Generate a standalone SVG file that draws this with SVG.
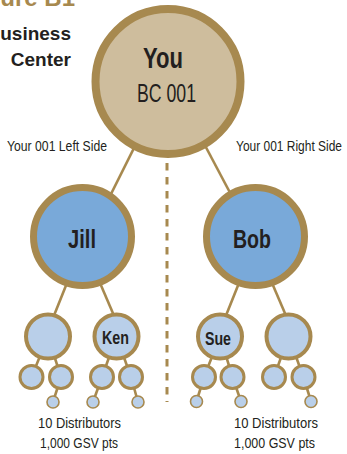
<svg xmlns="http://www.w3.org/2000/svg" width="347" height="454" viewBox="0 0 347 454">
<style>
  .ln { stroke: #a7894f; stroke-width: 2.6; fill: none; }
  .dash { stroke: #a7894f; stroke-width: 3; stroke-dasharray: 7.5 6.5; fill: none; }
  .you { fill: #cebd9d; stroke: #a7894f; stroke-width: 8; }
  .l2 { fill: #79a9d9; stroke: #a7894f; stroke-width: 7; }
  .l3 { fill: #b9cfe9; stroke: #a7894f; stroke-width: 4; }
  .l4 { fill: #b9cfe9; stroke: #a7894f; stroke-width: 3; }
  .l5 { fill: #b9cfe9; stroke: #a7894f; stroke-width: 1.6; }
  text { font-family: "Liberation Sans", Arial, sans-serif; fill: #231f20; }
  .b { font-weight: bold; }
  .side { font-size: 15.5px; }
  .foot { font-size: 15.5px; }
</style>
<rect width="347" height="454" fill="#ffffff"/>
<g id="title">
  <text x="75" y="6" class="b" font-size="24" text-anchor="end" style="fill:#a7894f">Figure B1</text>
  <text x="71" y="40" class="b" font-size="19" text-anchor="end">Business</text>
  <text x="71" y="66" class="b" font-size="19" text-anchor="end">Center</text>
</g>
<g id="connectors">
  <line class="dash" x1="167" y1="163" x2="167" y2="402"/>
  <line class="ln" x1="140" y1="136" x2="104" y2="208"/>
  <line class="ln" x1="200" y1="136" x2="236" y2="204"/>
  <line class="ln" x1="67" y1="283" x2="53" y2="318"/>
  <line class="ln" x1="100" y1="283" x2="115" y2="318"/>
  <line class="ln" x1="239" y1="283" x2="225" y2="318"/>
  <line class="ln" x1="272" y1="283" x2="287" y2="318"/>
  <line class="ln" x1="48" y1="336.5" x2="31.5" y2="377"/>
  <line class="ln" x1="48" y1="336.5" x2="61" y2="377"/>
  <line class="ln" x1="116.5" y1="336.5" x2="102" y2="377"/>
  <line class="ln" x1="116.5" y1="336.5" x2="131" y2="377"/>
  <line class="ln" x1="220" y1="336.5" x2="204" y2="377"/>
  <line class="ln" x1="220" y1="336.5" x2="232.5" y2="377"/>
  <line class="ln" x1="288.5" y1="336.5" x2="274" y2="377"/>
  <line class="ln" x1="288.5" y1="336.5" x2="303.5" y2="377"/>
  <line class="ln" x1="61" y1="377" x2="53" y2="402"/>
  <line class="ln" x1="102" y1="377" x2="93" y2="402"/>
  <line class="ln" x1="131" y1="377" x2="138" y2="402"/>
  <line class="ln" x1="204" y1="377" x2="196.5" y2="401.5"/>
  <line class="ln" x1="232.5" y1="377" x2="241" y2="401.5"/>
  <line class="ln" x1="303.5" y1="377" x2="311" y2="401.5"/>
</g>
<g id="labels">
  <text class="side" x="7" y="151" textLength="100" lengthAdjust="spacingAndGlyphs">Your 001 Left Side</text>
  <text class="side" x="236" y="151" textLength="106" lengthAdjust="spacingAndGlyphs">Your 001 Right Side</text>
  <text class="foot" x="38" y="428" textLength="83" lengthAdjust="spacingAndGlyphs">10 Distributors</text>
  <text class="foot" x="40" y="448" textLength="78" lengthAdjust="spacingAndGlyphs">1,000 GSV pts</text>
  <text class="foot" x="234" y="428" textLength="84" lengthAdjust="spacingAndGlyphs">10 Distributors</text>
  <text class="foot" x="234" y="448" textLength="81" lengthAdjust="spacingAndGlyphs">1,000 GSV pts</text>
</g>
<g id="you">
  <circle class="you" cx="168" cy="81.5" r="72.5"/>
  <text x="163" y="68" class="b" font-size="30" text-anchor="middle" textLength="40" lengthAdjust="spacingAndGlyphs">You</text>
  <text x="166.5" y="102" font-size="26" text-anchor="middle" textLength="59" lengthAdjust="spacingAndGlyphs">BC 001</text>
</g>
<g id="jill">
  <circle class="l2" cx="82.5" cy="236.5" r="49"/>
  <text x="82" y="248" class="b" font-size="25" text-anchor="middle" textLength="28" lengthAdjust="spacingAndGlyphs">Jill</text>
</g>
<g id="bob">
  <circle class="l2" cx="255.5" cy="236.5" r="49"/>
  <text x="252" y="248" class="b" font-size="25" text-anchor="middle" textLength="38" lengthAdjust="spacingAndGlyphs">Bob</text>
</g>
<g id="jill-left">
  <circle class="l3" cx="48" cy="336.5" r="22"/>
</g>
<g id="ken">
  <circle class="l3" cx="116.5" cy="336.5" r="22"/>
  <text x="115.5" y="344" class="b" font-size="19" text-anchor="middle" textLength="27" lengthAdjust="spacingAndGlyphs">Ken</text>
</g>
<g id="sue">
  <circle class="l3" cx="220" cy="336.5" r="22"/>
  <text x="218" y="345" class="b" font-size="19" text-anchor="middle" textLength="26" lengthAdjust="spacingAndGlyphs">Sue</text>
</g>
<g id="bob-right">
  <circle class="l3" cx="288.5" cy="336.5" r="22"/>
</g>
<g id="level4">
  <circle class="l4" cx="31.5" cy="377" r="11.5"/>
  <circle class="l4" cx="61" cy="377" r="11.5"/>
  <circle class="l4" cx="102" cy="377" r="11.5"/>
  <circle class="l4" cx="131" cy="377" r="11.5"/>
  <circle class="l4" cx="204" cy="377" r="11.5"/>
  <circle class="l4" cx="232.5" cy="377" r="11.5"/>
  <circle class="l4" cx="274" cy="377" r="11.5"/>
  <circle class="l4" cx="303.5" cy="377" r="11.5"/>
</g>
<g id="level5">
  <circle class="l5" cx="53" cy="402" r="6"/>
  <circle class="l5" cx="93" cy="402" r="6"/>
  <circle class="l5" cx="138" cy="402" r="6"/>
  <circle class="l5" cx="196.5" cy="401.5" r="6"/>
  <circle class="l5" cx="241" cy="401.5" r="6"/>
  <circle class="l5" cx="311" cy="401.5" r="6"/>
</g>
</svg>
